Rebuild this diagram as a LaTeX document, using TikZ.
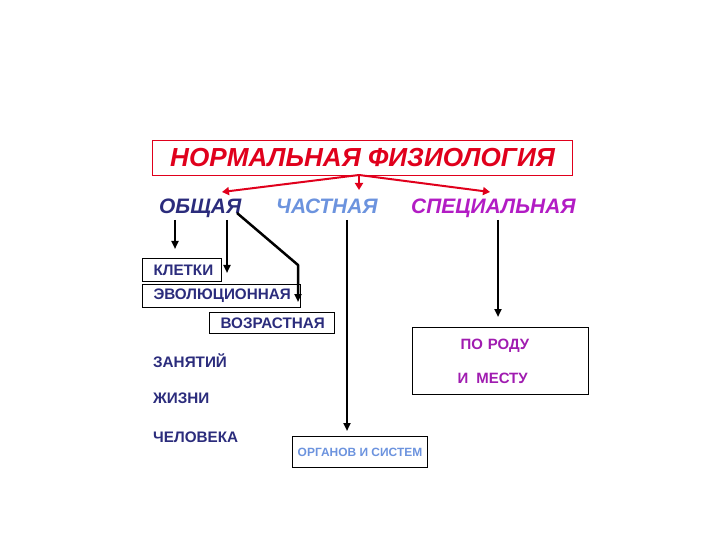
\documentclass[tikz,border=0pt]{standalone}
\usepackage{fontspec}
\setmainfont{Liberation Sans}
\usetikzlibrary{arrows.meta}
\definecolor{navy}{HTML}{2B2C7C}
\definecolor{lblue}{HTML}{6C93DE}
\definecolor{magn}{HTML}{B21CC4}
\definecolor{purp}{HTML}{A01CB0}
\definecolor{myred}{HTML}{E0001C}
\begin{document}
\begin{tikzpicture}[x=1bp,y=-1bp,
  txt/.style={inner sep=0pt, anchor=base west},
  hd/.style={txt, font=\fontsize{21}{21}\selectfont\bfseries\itshape},
  sm/.style={txt, font=\fontsize{15.3}{15.3}\selectfont\bfseries, text=navy},
  box/.style={draw, line width=1bp, anchor=north west, inner xsep=11bp, inner ysep=0pt, align=left, font=\fontsize{15.3}{15.3}\selectfont\bfseries, text=navy},
  arr/.style={line width=2.5bp, -{Triangle[width=7bp,length=8bp]}},
  rarr/.style={myred, line width=2bp, -{Triangle[width=8bp,length=7bp]}}]
\useasboundingbox (0,0) rectangle (720,540);
% title
\node[draw=myred, line width=1bp, minimum width=420bp, minimum height=35bp, anchor=north west,
      inner sep=0pt, text=myred, font=\fontsize{26.2}{26.2}\selectfont\bfseries\itshape] (title) at (152,140) {НОРМАЛЬНАЯ ФИЗИОЛОГИЯ};
% headings
\node[hd, text=navy] (obsh) at (159,214) {ОБЩАЯ};
\node[hd, text=lblue] (chast) at (276,214) {ЧАСТНАЯ};
\node[hd, text=magn] (spec) at (411,214) {СПЕЦИАЛЬНАЯ};
% red arrows
\coordinate (hub) at (359,175);
\coordinate (tL) at (222,192);
\coordinate (tM) at (359,190);
\coordinate (tR) at (490,192);
\draw[rarr] (hub) -- (tL);
\draw[rarr] (hub) -- (tM);
\draw[rarr] (hub) -- (tR);
% boxes of general
\node[box, minimum width=79bp, minimum height=23bp, text width=57bp] (klet) at (142,258) {КЛЕТКИ};
\node[box, minimum width=158bp, minimum height=23bp, text width=136bp] (evol) at (142,284) {ЭВОЛЮЦИОННАЯ};
\node[box, minimum width=125bp, minimum height=21bp, text width=103bp] (vozr) at (209,312) {ВОЗРАСТНАЯ};
\node[sm] (zan) at (153,367) {ЗАНЯТИЙ};
\node[sm] (zhiz) at (153,403) {ЖИЗНИ};
\node[sm] (chel) at (153,442) {ЧЕЛОВЕКА};
% arrows from general
\coordinate (a1s) at (175,220);
\coordinate (a1e) at (175,249);
\coordinate (a2s) at (227,220);
\coordinate (a2e) at (227,273);
\coordinate (a3s) at (237,213);
\coordinate (a3m) at (298,265);
\coordinate (a3e) at (298,302);
\draw[arr] (a1s) -- (a1e);
\draw[arr] (a2s) -- (a2e);
\draw[arr, line join=round] (a3s) -- (a3m) -- (a3e);
% particular
\node[draw, line width=1bp, anchor=north west, minimum width=135bp, minimum height=31bp, inner sep=0pt,
      text=lblue, font=\fontsize{12}{12}\selectfont\bfseries] (org) at (292,436) {ОРГАНОВ И СИСТЕМ};
\coordinate (a4s) at (347,220);
\coordinate (a4e) at (347,431);
\draw[arr] (a4s) -- (a4e);
% special
\node[draw, line width=1.2bp, anchor=north west, minimum width=176bp, minimum height=67bp, inner xsep=45bp, inner ysep=0pt,
      text width=86bp, align=left, text=purp, font=\fontsize{15}{34}\selectfont\bfseries] (rod) at (412,327) {\hspace*{3bp}ПО РОДУ\\И\hspace{8bp}МЕСТУ};
\coordinate (a5s) at (498,220);
\coordinate (a5e) at (498,317);
\draw[arr] (a5s) -- (a5e);
\end{tikzpicture}
\end{document}
